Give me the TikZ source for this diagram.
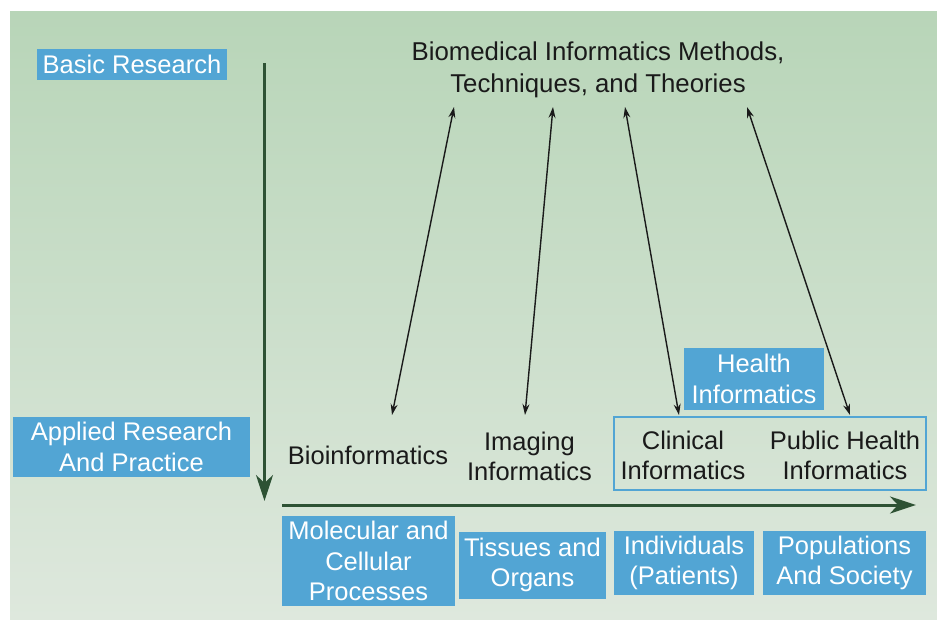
\documentclass[tikz,border=0pt]{standalone}
\usepackage{fontspec}
\setmainfont{Liberation Sans}
\usetikzlibrary{arrows.meta}
\definecolor{bgtop}{HTML}{B8D5B8}
\definecolor{bgbot}{HTML}{DEE8DD}
\definecolor{boxblue}{HTML}{52A5D4}
\definecolor{axisgreen}{HTML}{2E5234}
\definecolor{txt}{HTML}{1A1A1A}
\tikzset{
  bluebox/.style={fill=boxblue, text=white, align=center, inner sep=0pt,
    font=\fontsize{25.5}{30.5}\selectfont},
  plain/.style={text=txt, align=center, inner sep=0pt,
    font=\fontsize{25.5}{30}\selectfont},
  linkarrow/.style={txt, line width=1.4pt, {Stealth[length=11pt,width=7pt]}-{Stealth[length=11pt,width=7pt]}},
  axis/.style={axisgreen, line width=3pt, -{Stealth[length=26pt,width=17pt,inset=8pt]}}
}
\begin{document}
\begin{tikzpicture}[x=1pt,y=-1pt]
\useasboundingbox (0,0) rectangle (937,619);
\shade[top color=bgtop, bottom color=bgbot] (10,11) rectangle (937,619);

% labels on left
\node[bluebox, minimum width=190pt, minimum height=31pt] (basic) at (132,64.5) {Basic Research};
\node[bluebox, minimum width=237pt, minimum height=60pt] (applied) at (131.5,447) {Applied Research\\And Practice};

% axes
\coordinate (vtop) at (264.5,63);
\coordinate (vbot) at (264.5,501);
\coordinate (hleft) at (282,505);
\coordinate (hright) at (916,505);
\draw[axis] (vtop) -- (vbot);
\draw[axis] (hleft) -- (hright);

% bottom boxes
\node[bluebox, minimum width=173pt, minimum height=90pt] (mol) at (368.5,561) {Molecular and\\Cellular\\Processes};
\node[bluebox, minimum width=147pt, minimum height=67pt] (tis) at (532.5,565) {Tissues and\\Organs};
\node[bluebox, minimum width=140pt, minimum height=64pt] (ind) at (684,563) {Individuals\\(Patients)};
\node[bluebox, minimum width=163pt, minimum height=64pt] (pop) at (844.5,563) {Populations\\And Society};

% health informatics group
\node[draw=boxblue, line width=1.5pt, minimum width=312pt, minimum height=73pt, inner sep=0pt] (group) at (770,453.5) {};
\node[bluebox, minimum width=140pt, minimum height=62pt] (health) at (754,379) {Health\\Informatics};

% title
\node[plain, font=\fontsize{25.8}{32}\selectfont] (title) at (598,70) {Biomedical Informatics Methods,\\Techniques, and Theories};

% fields
\node[plain] (bio) at (368,455) {Bioinformatics};
\node[plain] (img) at (529.5,456) {Imaging\\Informatics};
\node[plain] (clin) at (683,455) {Clinical\\Informatics};
\node[plain] (pub) at (845,455) {Public Health\\Informatics};

% link arrows
\coordinate (t1) at (454,107);
\coordinate (b1) at (392,415);
\coordinate (t2) at (553,107);
\coordinate (b2) at (525,415);
\coordinate (t3) at (625,107);
\coordinate (b3) at (679,415);
\coordinate (t4) at (747,107);
\coordinate (b4) at (850,415);
\draw[linkarrow] (t1) -- (b1);
\draw[linkarrow] (t2) -- (b2);
\draw[linkarrow] (t3) -- (b3);
\draw[linkarrow] (t4) -- (b4);
\end{tikzpicture}
\end{document}
